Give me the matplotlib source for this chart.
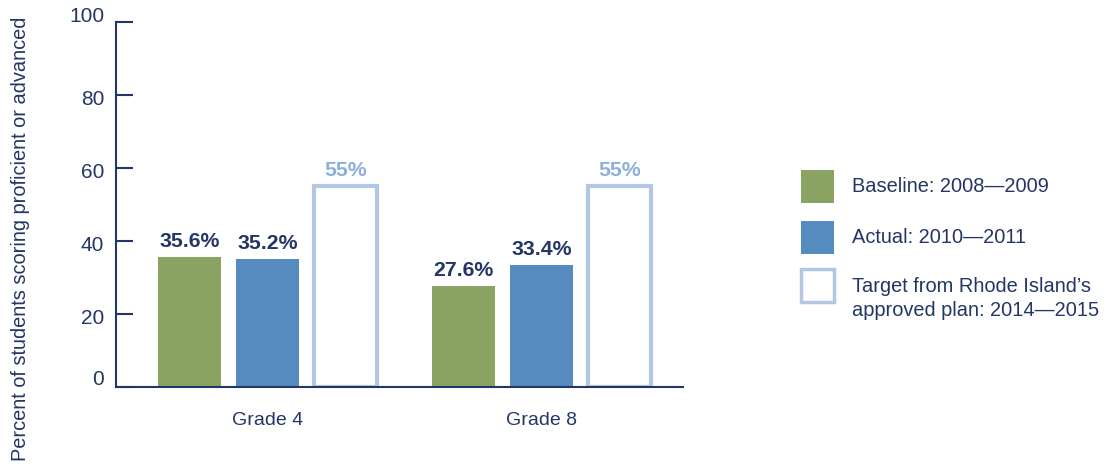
import numpy as np
import matplotlib
matplotlib.use("Agg")
import matplotlib.pyplot as plt
from matplotlib.patches import Rectangle
import matplotlib.transforms as mtransforms

plt.rcParams['font.family'] = ['Liberation Sans', 'DejaVu Sans']

# --- Datos ---
grades = ["Grade 4", "Grade 8"]
baseline = [35.6, 27.6]
actual = [35.2, 33.4]
target = [55, 55]
yticks = [0, 20, 40, 60, 80, 100]
series_labels = ["Baseline: 2008\u20142009",
                 "Actual: 2010\u20142011",
                 "Target from Rhode Island\u2019s\napproved plan: 2014\u20142015"]

# --- Colores ---
GREEN = "#8aa362"
BLUE = "#568bbf"
OUTLINE = "#b3c6e3"
NAVY = "#233665"
LIGHT = "#8eafdc"

fig = plt.figure(figsize=(11.09, 4.66), dpi=100)
ax = fig.add_axes([0.1046, 0.1695, 0.5113, 0.7833])

x = np.arange(len(grades))
w = 0.229
off = 0.284

ax.bar(x - off, baseline, w, color=GREEN)
ax.bar(x, actual, w, color=BLUE)
ax.bar(x + off, target, w, facecolor="white", edgecolor=OUTLINE, linewidth=3)

for xi, v in zip(x - off, baseline):
    ax.text(xi, v + 1.6, f"{v}%", ha="center", va="bottom", fontsize=15.3,
            fontweight="bold", color=NAVY)
for xi, v in zip(x, actual):
    ax.text(xi, v + 1.6, f"{v}%", ha="center", va="bottom", fontsize=15.3,
            fontweight="bold", color=NAVY)
for xi, v in zip(x + off, target):
    ax.text(xi, v + 1.8, f"{v}%", ha="center", va="bottom", fontsize=15.3,
            fontweight="bold", color=LIGHT)

ax.set_xlim(-0.553, 1.516)
ax.set_ylim(0, 100)
ax.set_yticks(yticks)
ax.set_xticks(x)
ax.set_xticklabels(grades, fontsize=14, color=NAVY)
ax.tick_params(axis="x", length=0, pad=18)
ax.tick_params(axis="y", direction="in", length=12, width=1.5, color=NAVY,
               labelsize=15, labelcolor=NAVY, pad=8.5)
# las etiquetas del eje y no quedan todas centradas en su marca
shifts_px = {0: 10, 100: 7}
for val, lab in zip(yticks, ax.get_yticklabels()):
    dy = shifts_px.get(val, -2.5)
    lab.set_transform(lab.get_transform() +
                      mtransforms.ScaledTranslation(0, dy / 100, fig.dpi_scale_trans))

for s in ["top", "right"]:
    ax.spines[s].set_visible(False)
for s in ["left", "bottom"]:
    ax.spines[s].set_color(NAVY)
    ax.spines[s].set_linewidth(1.5)

fig.text(21 / 1109, 1 - 239 / 466, "Percent of students scoring proficient or advanced",
         rotation=90, ha="center", va="center", fontsize=14.4, color=NAVY)

# --- Leyenda manual ---
W, H = 1109, 466
rows = [(186.5, dict(facecolor=GREEN, edgecolor="none")),
        (237.5, dict(facecolor=BLUE, edgecolor="none")),
        (285, dict(facecolor="white", edgecolor=OUTLINE, linewidth=2.5))]
for (yc, style), lab in zip(rows, series_labels):
    fig.add_artist(Rectangle((801 / W, 1 - (yc + 16.5) / H), 33 / W, 33 / H,
                             transform=fig.transFigure, **style))
    if "\n" in lab:
        fig.text(852 / W, 1 - 298.5 / H, lab, ha="left", va="center",
                 fontsize=14.4, color=NAVY, linespacing=1.3)
    else:
        fig.text(852 / W, 1 - yc / H, lab, ha="left", va="center",
                 fontsize=14.4, color=NAVY)

fig.savefig("out.png", dpi=100)
